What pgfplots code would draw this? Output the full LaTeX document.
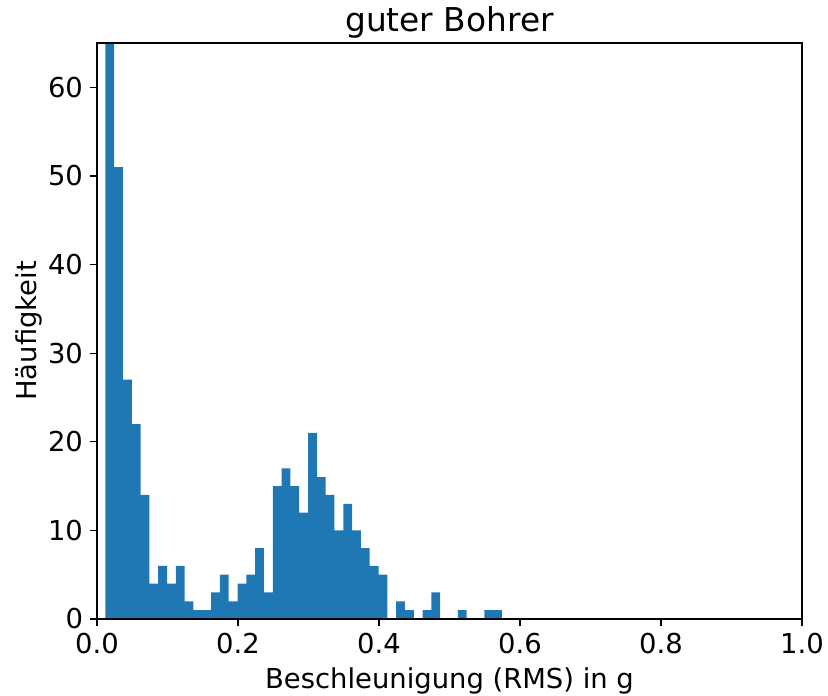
\documentclass[border=0pt]{standalone}
\usepackage{pgfplots}
\pgfplotsset{compat=1.18}
\usepackage{fontspec}
\setmainfont{DejaVu Sans}
\definecolor{mplblue}{HTML}{1F77B4}
\begin{document}
\begin{tikzpicture}[x=1pt,y=1pt]
\begin{axis}[name=ax,
  scale only axis, width=352.5pt, height=288pt,
  xmin=0, xmax=1, ymin=0, ymax=65,
  xtick={0,0.2,0.4,0.6,0.8,1.0},
  ytick={0,10,20,30,40,50,60},
  xticklabel style={/pgf/number format/.cd, fixed, fixed zerofill, precision=1},
  /pgf/number format/assume math mode=true,
  tick label style={font=\fontsize{13.7}{16}\selectfont},
  label style={font=\fontsize{13.7}{16}\selectfont},
  every axis title shift=0pt,
  title style={font=\fontsize{16.4}{19}\selectfont, at={(0.5,1)}, anchor=base, yshift=5.5pt},
  title={guter Bohrer},
  xlabel={Beschleunigung (RMS) in g},
  ylabel={Häufigkeit},
  ylabel shift=-4pt,
  xtick pos=bottom, ytick pos=left,
  tick align=outside, major tick length=3.5pt,
  axis line style={line width=0.6pt},
  every tick/.style={line width=0.6pt, black},
  axis on top,
]
\addplot[ybar interval, fill=mplblue, draw=none] coordinates {
(0.0118,85) (0.0243,51) (0.0368,27) (0.0493,22) (0.0618,14)
(0.0743,4) (0.0868,6) (0.0993,4) (0.1118,6) (0.1243,2)
(0.1368,1) (0.1493,1) (0.1618,3) (0.1743,5) (0.1868,2)
(0.1993,4) (0.2118,5) (0.2243,8) (0.2368,3) (0.2493,15)
(0.2618,17) (0.2743,15) (0.2868,12) (0.2993,21) (0.3118,16)
(0.3243,14) (0.3368,10) (0.3493,13) (0.3618,10) (0.3743,8)
(0.3868,6) (0.3993,5) (0.4118,0) (0.4243,2) (0.4368,1)
(0.4493,0) (0.4618,1) (0.4743,3) (0.4868,0) (0.4993,0)
(0.5118,1) (0.5243,0) (0.5368,0) (0.5493,1) (0.5618,1)
(0.5743,1)
};
\end{axis}
\pgfresetboundingbox
\path ([xshift=-48.5pt,yshift=-38pt]ax.south west) rectangle ([xshift=13pt,yshift=21.5pt]ax.north east);
\end{tikzpicture}
\end{document}
